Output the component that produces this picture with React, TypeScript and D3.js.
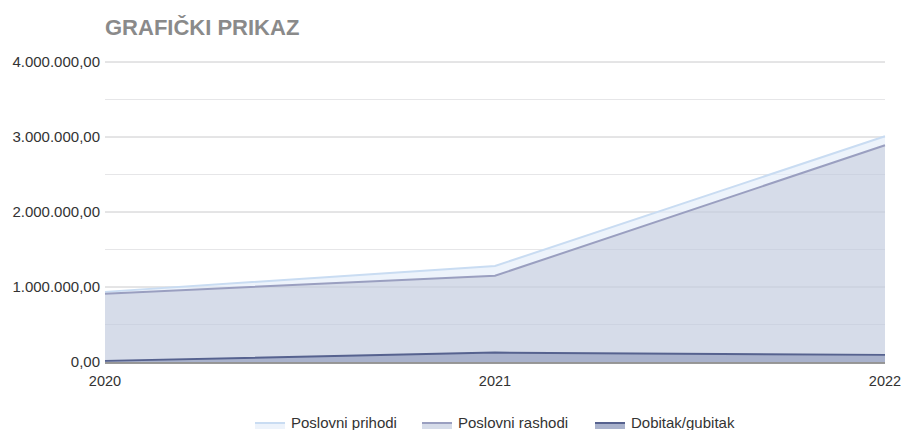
import React from "react";
import * as d3 from "d3";

const years = ["2020", "2021", "2022"];
const prihodi = [935000, 1280000, 3010000];
const rashodi = [910000, 1150000, 2890000];
const dobitak = [15000, 125000, 95000];
const yTicks = [0, 1000000, 2000000, 3000000, 4000000];
const yMinor = [500000, 1500000, 2500000, 3500000];
const legendLabels = ["Poslovni prihodi", "Poslovni rashodi", "Dobitak/gubitak"];

const W = 903, H = 430;
const left = 105, right = 885, top = 62, bottom = 362;

const fmt = (v: number) => {
  const s = Math.round(v).toString().replace(/\B(?=(\d{3})+(?!\d))/g, ".");
  return s + ",00";
};

export default function App() {
  const x = d3.scalePoint<string>().domain(years).range([left, right]);
  const y = d3.scaleLinear().domain([0, 4000000]).range([bottom, top]);
  const area = (vals: number[]) =>
    d3.area<number>().x((_, i) => x(years[i])!).y0(y(0)).y1((d) => y(d))(vals) || "";
  const line = (vals: number[]) =>
    d3.line<number>().x((_, i) => x(years[i])!).y((d) => y(d))(vals) || "";

  const series = [
    { vals: prihodi, stroke: "#c9dcf2", fill: "#edf3fb" },
    { vals: rashodi, stroke: "#9a9fc0", fill: "#d6dce9" },
    { vals: dobitak, stroke: "#56628f", fill: "#a9b2cc" },
  ];
  const legendX = [255, 422, 595];

  return (
    <svg width={W} height={H} style={{ position: "absolute", left: 0, top: 0, fontFamily: "'Liberation Sans', Arial, sans-serif" }}>
      <rect x={0} y={0} width={W} height={H} fill="#fff" />
      <text x={105} y={35} fontSize={22} fontWeight="bold" fill="#8a8a8a">GRAFIČKI PRIKAZ</text>
      {yMinor.map((t) => (
        <line key={"m" + t} x1={left} x2={right} y1={y(t)} y2={y(t)} stroke="#f0f0f0" strokeWidth={1} />
      ))}
      {yTicks.map((t) => (
        <line key={"g" + t} x1={left} x2={right} y1={y(t)} y2={y(t)} stroke="#dcdcdc" strokeWidth={1} />
      ))}
      {series.map((s, i) => (
        <path key={"a" + i} d={area(s.vals)} fill={s.fill} />
      ))}
      {yMinor.map((t) => (
        <line key={"mo" + t} x1={left} x2={right} y1={y(t)} y2={y(t)} stroke="rgba(0,0,40,0.04)" strokeWidth={1} />
      ))}
      {yTicks.slice(1).map((t) => (
        <line key={"go" + t} x1={left} x2={right} y1={y(t)} y2={y(t)} stroke="rgba(0,0,40,0.07)" strokeWidth={1} />
      ))}
      {series.map((s, i) => (
        <path key={"l" + i} d={line(s.vals)} fill="none" stroke={s.stroke} strokeWidth={2} />
      ))}
      <line x1={left} x2={right} y1={bottom + 1} y2={bottom + 1} stroke="#777" strokeWidth={1.5} />
      {yTicks.map((t) => (
        <text key={"yl" + t} x={100} y={y(t) + 5} textAnchor="end" fontSize={15} fill="#333">{fmt(t)}</text>
      ))}
      {years.map((yr) => (
        <text key={yr} x={x(yr)} y={386} textAnchor="middle" fontSize={14.5} fill="#333">{yr}</text>
      ))}
      {legendLabels.map((lab, i) => (
        <g key={lab} transform={`translate(${legendX[i]},0)`}>
          <rect x={0} y={423} width={30} height={6} fill={series[i].fill} />
          <line x1={0} x2={30} y1={423} y2={423} stroke={series[i].stroke} strokeWidth={2} />
          <text x={36} y={428} fontSize={15} fill="#333">{lab}</text>
        </g>
      ))}
    </svg>
  );
}
